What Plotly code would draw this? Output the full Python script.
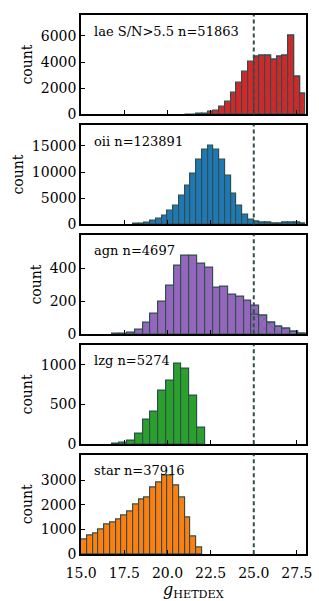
import numpy as np
import plotly.graph_objects as go

# ---------------- data ----------------
X_RANGE = [15.0, 28.0]
X_TICKS = [15.0, 17.5, 20.0, 22.5, 25.0, 27.5]
X_TICK_LABELS = ["15.0", "17.5", "20.0", "22.5", "25.0", "27.5"]
G_CUT = 25.0

LABELS = ["lae S/N>5.5 n=51863", "oii n=123891", "agn n=4697", "lzg n=5274", "star n=37916"]
COLORS = ["#d62728", "#1f77b4", "#9467bd", "#2ca02c", "#ff7f0e"]

# histogram of each class: first bin edge, bin width, counts per bin
LAE_START, LAE_WIDTH = 21.0, 1.0 / 3.0
LAE_COUNTS = [5, 10, 30, 60, 175, 250, 550, 1000, 1650, 2450, 3300, 4000,
              4375, 4475, 4450, 4200, 4375, 4500, 6000, 2875, 1550]
LAE_HATCH_START = 25.0
LAE_HATCH = [4375, 4475, 4450, 4200, 4375, 4500, 6000, 2875, 1550]

OII_START, OII_WIDTH = 18.0, 1.0 / 3.0
OII_COUNTS = [40, 125, 375, 625, 1060, 1700, 2600, 3550, 5400, 7300, 9700,
              12300, 14250, 15000, 14250, 12300, 9200, 5800, 3550, 1800, 940,
              600, 400, 250, 200, 200, 250, 350, 300, 100]
OII_HATCH_START = 25.0
OII_HATCH = [600, 400, 250, 200, 200, 250, 350, 300, 100]

AGN_START, AGN_WIDTH = 16.77, 0.45
AGN_COUNTS = [3, 6, 12, 30, 72, 128, 198, 296, 420, 476, 476, 432, 406, 282,
              290, 242, 232, 204, 174, 116, 72, 46, 36, 16, 4]
AGN_HATCH_START = 24.87
AGN_HATCH = [120, 116, 72, 46, 36, 16, 4]

LZG_START, LZG_WIDTH = 16.77, 0.45
LZG_COUNTS = [3, 15, 50, 130, 310, 405, 680, 805, 1010, 955, 615, 215]

STAR_START, STAR_WIDTH = 15.0, 1.0 / 3.0
STAR_COUNTS = [590, 750, 855, 1000, 1185, 1280, 1385, 1560, 1720, 1995, 2195,
               2295, 2700, 2910, 3180, 3180, 2785, 2280, 1470, 695, 255]

Y_MAX = [7620, 19030, 606, 1253, 4030]
Y_TICKS = [[0, 2000, 4000, 6000],
           [0, 5000, 10000, 15000],
           [0, 200, 400],
           [0, 500, 1000],
           [0, 1000, 2000, 3000]]

PANELS = [
    (LAE_START, LAE_WIDTH, LAE_COUNTS, LAE_HATCH_START, LAE_HATCH),
    (OII_START, OII_WIDTH, OII_COUNTS, OII_HATCH_START, OII_HATCH),
    (AGN_START, AGN_WIDTH, AGN_COUNTS, AGN_HATCH_START, AGN_HATCH),
    (LZG_START, LZG_WIDTH, LZG_COUNTS, None, None),
    (STAR_START, STAR_WIDTH, STAR_COUNTS, None, None),
]

# ---------------- figure ----------------
W, H = 319, 601
EDGE = "#2f4f4f"
FONT = "DejaVu Serif"
PLOT_L, PLOT_R = 70, 311
TOP, BOTTOM = 15.0, 561.7
PH = 101.0
GAP = (BOTTOM - TOP - 5 * PH) / 4

fig = go.Figure()
layout = dict(
    width=W, height=H, margin=dict(l=0, r=0, t=0, b=0),
    paper_bgcolor="white", plot_bgcolor="white",
    barmode="overlay", bargap=0, showlegend=False,
    font=dict(family=FONT, size=14, color="black"),
)
shapes = []
annotations = []

for i, (start, width, counts, hstart, hatch) in enumerate(PANELS):
    n = i + 1
    xa = "x" if n == 1 else f"x{n}"
    ya = "y" if n == 1 else f"y{n}"
    counts = np.asarray(counts, dtype=float)
    centers = start + width * (np.arange(len(counts)) + 0.5)
    fig.add_trace(go.Bar(
        x=centers, y=counts, width=width, xaxis=xa, yaxis=ya,
        marker=dict(color=COLORS[i], line=dict(color=EDGE, width=1.2)),
        hoverinfo="skip",
    ))
    if hatch is not None:
        hatch = np.asarray(hatch, dtype=float)
        hcenters = hstart + width * (np.arange(len(hatch)) + 0.5)
        fig.add_trace(go.Bar(
            x=hcenters, y=hatch, width=width, xaxis=xa, yaxis=ya,
            marker=dict(color=COLORS[i], line=dict(color=EDGE, width=1.2),
                        pattern=dict(shape="x", size=7, solidity=0.12,
                                     fgcolor=EDGE, fgopacity=0.55)),
            hoverinfo="skip",
        ))

    top_px = TOP + i * (PH + GAP)
    bot_px = top_px + PH
    dom = [1 - bot_px / H, 1 - top_px / H]
    last = (n == 5)
    xaxis = dict(
        domain=[PLOT_L / W, PLOT_R / W], anchor=ya, range=X_RANGE,
        tickmode="array", tickvals=X_TICKS, ticktext=X_TICK_LABELS,
        showticklabels=last, ticks="inside", ticklen=4, tickwidth=1,
        tickcolor="black", showgrid=False, zeroline=False,
        showline=True, linewidth=2, linecolor="black", mirror=True,
        tickfont=dict(family=FONT, size=14),
    )
    if last:
        xaxis["ticklabelstandoff"] = 5
        xaxis["title"] = dict(text="<i>g</i><sub>HETDEX</sub>",
                              font=dict(family=FONT, size=16), standoff=2)
    else:
        xaxis["matches"] = "x5"
    layout["xaxis" if n == 1 else f"xaxis{n}"] = xaxis
    layout["yaxis" if n == 1 else f"yaxis{n}"] = dict(
        domain=dom, anchor=xa, range=[0, Y_MAX[i]],
        tickmode="array", tickvals=Y_TICKS[i], ticktext=[str(v) for v in Y_TICKS[i]],
        ticks="inside", ticklen=4, tickwidth=1, tickcolor="black",
        showgrid=False, zeroline=False,
        showline=True, linewidth=2, linecolor="black", mirror=True,
        tickfont=dict(family=FONT, size=14),
        title=dict(text="count", font=dict(family=FONT, size=14), standoff=5),
    )
    shapes.append(dict(
        type="line", xref=xa, yref=f"{ya} domain", x0=G_CUT, x1=G_CUT, y0=0, y1=1,
        line=dict(color=EDGE, width=2, dash="4px,3px"), layer="above",
    ))
    annotations.append(dict(
        text=LABELS[i], xref=f"{xa} domain", yref=f"{ya} domain",
        x=12 / (PLOT_R - PLOT_L), y=1 - 16.5 / PH, xanchor="left", yanchor="middle",
        showarrow=False, font=dict(family=FONT, size=13, color="black"),
    ))

layout["shapes"] = shapes
layout["annotations"] = annotations
fig.update_layout(**layout)
fig.write_html("out.html", config={"displayModeBar": False},
               post_script="document.body.style.margin='0';document.body.style.overflow='hidden';")
